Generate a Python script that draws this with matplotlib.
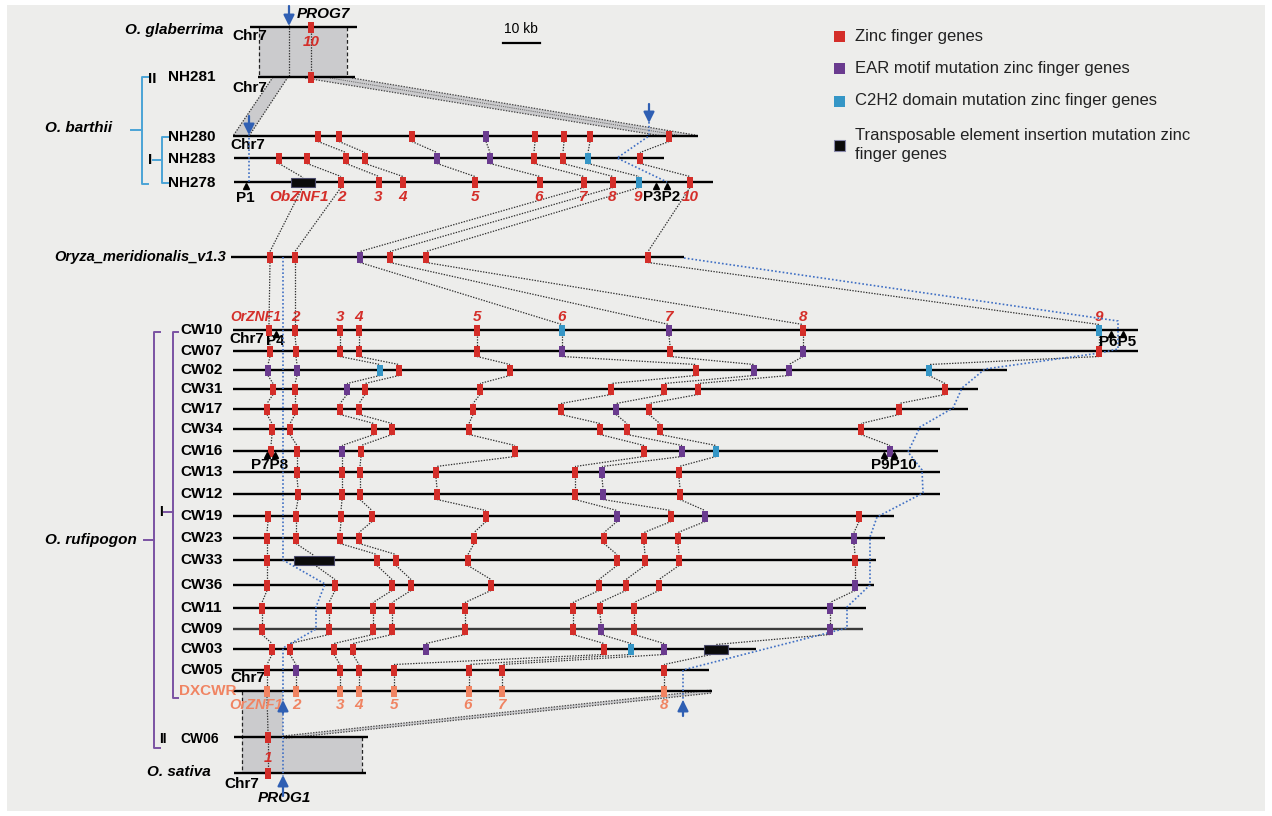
import matplotlib
matplotlib.use("Agg")
import matplotlib.pyplot as plt
from matplotlib.patches import Rectangle, Polygon

plt.rcParams['font.family'] = ['Liberation Sans', 'DejaVu Sans']

# ---------------- data ----------------
ROW_NAMES = ["glab", "NH281", "NH280", "NH283", "NH278", "MER",
             "CW10", "CW07", "CW02", "CW31", "CW17", "CW34", "CW16", "CW13", "CW12",
             "CW19", "CW23", "CW33", "CW36", "CW11", "CW09", "CW03", "CW05", "DXCWR",
             "CW06", "SAT"]
ROW_Y = [27, 77, 136, 158, 182, 257,
         330, 351, 370, 389, 409, 429, 451, 472, 494,
         516, 538, 560, 585, 608, 629, 649, 670, 691,
         737, 773]
ROW_X0 = [250, 258, 233, 234, 234, 231,
          233, 233, 233, 233, 233, 233, 233, 233, 233,
          233, 233, 233, 233, 233, 233, 233, 233, 233,
          234, 234]
ROW_X1 = [357, 355, 698, 664, 713, 684,
          1138, 1138, 1007, 978, 968, 940, 938, 940, 940,
          894, 885, 876, 874, 866, 863, 756, 709, 712,
          368, 366]

# genes: (index, position, kind)  kind: r=zinc finger, p=EAR, b=C2H2, t=TE, s=DXCWR
G_GLAB = [(10, 311, 'r')]
G_NH281 = [(10, 311, 'r')]
G_NH280 = [(3, 318, 'r'), (4, 339, 'r'), (5, 412, 'r'), (6, 486, 'p'), (7, 535, 'r'),
           (8, 564, 'r'), (9, 590, 'r'), (10, 669, 'r')]
G_NH283 = [(1, 279, 'r'), (2, 307, 'r'), (3, 346, 'r'), (4, 365, 'r'), (5, 437, 'p'),
           (6, 490, 'p'), (7, 534, 'r'), (8, 563, 'r'), (9, 588, 'b'), (10, 640, 'r')]
G_NH278 = [(1, 303, 't'), (2, 341, 'r'), (3, 379, 'r'), (4, 403, 'r'), (5, 475, 'r'),
           (6, 540, 'r'), (7, 584, 'r'), (8, 613, 'r'), (9, 639, 'b'), (10, 690, 'r')]
G_MER = [(1, 270, 'r'), (2, 295, 'r'), (7, 360, 'p'), (8, 390, 'r'), (9, 426, 'r'), (10, 648, 'r')]
G_CW10 = [(1, 269, 'r'), (2, 295, 'r'), (3, 340, 'r'), (4, 359, 'r'), (5, 477, 'r'),
          (6, 562, 'b'), (7, 669, 'p'), (8, 803, 'r'), (9, 1099, 'b')]
G_CW07 = [(1, 270, 'r'), (2, 296, 'r'), (3, 340, 'r'), (4, 359, 'r'), (5, 477, 'r'),
          (6, 562, 'p'), (7, 670, 'r'), (8, 803, 'p'), (9, 1099, 'r')]
G_CW02 = [(1, 268, 'p'), (2, 297, 'p'), (3, 380, 'b'), (4, 399, 'r'), (5, 510, 'r'),
          (6, 696, 'r'), (7, 754, 'p'), (8, 789, 'p'), (9, 929, 'b')]
G_CW31 = [(1, 273, 'r'), (2, 295, 'r'), (3, 347, 'p'), (4, 365, 'r'), (5, 480, 'r'),
          (6, 611, 'r'), (7, 664, 'r'), (8, 698, 'r'), (9, 945, 'r')]
G_CW17 = [(1, 267, 'r'), (2, 295, 'r'), (3, 340, 'r'), (4, 359, 'r'), (5, 473, 'r'),
          (6, 561, 'r'), (7, 616, 'p'), (8, 649, 'r'), (9, 899, 'r')]
G_CW34 = [(1, 272, 'r'), (2, 290, 'r'), (3, 374, 'r'), (4, 392, 'r'), (5, 469, 'r'),
          (6, 600, 'r'), (7, 627, 'r'), (8, 660, 'r'), (9, 861, 'r')]
G_CW16 = [(1, 271, 'r'), (2, 297, 'r'), (3, 342, 'p'), (4, 361, 'r'), (5, 515, 'r'),
          (6, 644, 'r'), (7, 682, 'p'), (8, 716, 'b'), (9, 890, 'p')]
G_CW13 = [(2, 297, 'r'), (3, 342, 'r'), (4, 360, 'r'), (5, 436, 'r'),
          (6, 575, 'r'), (7, 602, 'p'), (8, 679, 'r')]
G_CW12 = [(2, 298, 'r'), (3, 342, 'r'), (4, 360, 'r'), (5, 437, 'r'),
          (6, 575, 'r'), (7, 603, 'p'), (8, 680, 'r')]
G_CW19 = [(1, 268, 'r'), (2, 296, 'r'), (3, 341, 'r'), (4, 372, 'r'), (5, 486, 'r'),
          (6, 617, 'p'), (7, 671, 'r'), (8, 705, 'p'), (9, 859, 'r')]
G_CW23 = [(1, 267, 'r'), (2, 296, 'r'), (3, 340, 'r'), (4, 359, 'r'), (5, 474, 'r'),
          (6, 604, 'r'), (7, 644, 'r'), (8, 678, 'r'), (9, 854, 'p')]
G_CW33 = [(1, 267, 'r'), (2, 314, 't'), (3, 377, 'r'), (4, 396, 'r'), (5, 468, 'r'),
          (6, 617, 'r'), (7, 645, 'r'), (8, 679, 'r'), (9, 855, 'r')]
G_CW36 = [(1, 267, 'r'), (2, 335, 'r'), (3, 392, 'r'), (4, 411, 'r'), (5, 491, 'r'),
          (6, 599, 'r'), (7, 626, 'r'), (8, 659, 'r'), (9, 855, 'p')]
G_CW11 = [(1, 262, 'r'), (2, 329, 'r'), (3, 373, 'r'), (4, 392, 'r'), (5, 465, 'r'),
          (6, 573, 'r'), (7, 600, 'r'), (8, 634, 'r'), (9, 830, 'p')]
G_CW09 = [(1, 262, 'r'), (2, 329, 'r'), (3, 373, 'r'), (4, 392, 'r'), (5, 465, 'r'),
          (6, 573, 'r'), (7, 601, 'p'), (8, 634, 'r'), (9, 830, 'p')]
G_CW03 = [(1, 272, 'r'), (2, 290, 'r'), (3, 334, 'r'), (4, 353, 'r'), (5, 426, 'p'),
          (6, 604, 'r'), (7, 631, 'b'), (8, 664, 'p'), (9, 716, 't')]
G_CW05 = [(1, 267, 'r'), (2, 296, 'p'), (3, 340, 'r'), (4, 359, 'r'),
          (6, 394, 'r'), (7, 469, 'r'), (8, 502, 'r'), (9, 664, 'r')]
G_DXCWR = [(1, 267, 's'), (2, 296, 's'), (3, 340, 's'), (4, 359, 's'),
           (6, 394, 's'), (7, 469, 's'), (8, 502, 's'), (9, 664, 's')]
G_CW06 = [(1, 268, 'r')]
G_SAT = [(1, 268, 'r')]

# meridionalis gene index -> CW gene index
MER_TO_CW = {1: 1, 2: 2, 7: 6, 8: 7, 9: 8, 10: 9}

# gene number labels: (text, x)
LAB_NH278 = [("ObZNF1", 299), ("2", 341), ("3", 378), ("4", 402), ("5", 475), ("6", 539),
             ("7", 583), ("8", 612), ("9", 638), ("10", 690)]
LAB_CW10 = [("OrZNF1", 256), ("2", 295), ("3", 340), ("4", 359), ("5", 477), ("6", 562),
            ("7", 669), ("8", 803), ("9", 1099)]
LAB_DXCWR = [("OrZNF1", 256), ("2", 296), ("3", 340), ("4", 359), ("5", 394), ("6", 468),
             ("7", 502), ("8", 664)]

LEGEND_LABELS = ["Zinc finger genes", "EAR motif mutation zinc finger genes",
                 "C2H2 domain mutation zinc finger genes",
                 "Transposable element insertion mutation zinc\nfinger genes"]

# ---------------- styling ----------------
COL = {'r': '#d42e29', 'p': '#6a3b8f', 'b': '#3596c6', 's': '#f08462', 't': '#0b0b0b'}
LEG_COLORS = ['#d42e29', '#6a3b8f', '#3596c6', '#0b0b0b']
BLUE = '#3f6fc4'
ARROW = '#2f5fb3'
GRAY = '#cbcbcd'
DOT = (0, (1.1, 1.1))
TE_W = {"NH278": 24, "CW33": 40, "CW03": 24}

GENES = {"glab": G_GLAB, "NH281": G_NH281, "NH280": G_NH280, "NH283": G_NH283,
         "NH278": G_NH278, "MER": G_MER, "CW10": G_CW10, "CW07": G_CW07, "CW02": G_CW02,
         "CW31": G_CW31, "CW17": G_CW17, "CW34": G_CW34, "CW16": G_CW16, "CW13": G_CW13,
         "CW12": G_CW12, "CW19": G_CW19, "CW23": G_CW23, "CW33": G_CW33, "CW36": G_CW36,
         "CW11": G_CW11, "CW09": G_CW09, "CW03": G_CW03, "CW05": G_CW05, "DXCWR": G_DXCWR,
         "CW06": G_CW06, "SAT": G_SAT}
Y = dict(zip(ROW_NAMES, ROW_Y))
X0 = dict(zip(ROW_NAMES, ROW_X0))
X1 = dict(zip(ROW_NAMES, ROW_X1))

W, H = 1272, 816
fig = plt.figure(figsize=(W / 100, H / 100), dpi=100)
fig.patch.set_facecolor('white')
ax = fig.add_axes([0, 0, 1, 1])
ax.set_xlim(0, W)
ax.set_ylim(H, 0)
ax.axis('off')
ax.add_patch(Rectangle((7, 5), 1258, 806, facecolor='#ededeb', edgecolor='none', zorder=0))

# ---------- gray synteny blocks ----------
def block(pts, hatch=None, z=1):
    ax.add_patch(Polygon(pts, closed=True, facecolor=GRAY, edgecolor='none', zorder=z,
                         hatch=hatch))

block([(259, 27), (347, 27), (347, 77), (259, 77)])
ax.plot([259, 259], [27, 77], color='#222', lw=0.9, ls=(0, (3, 2)), zorder=2)
ax.plot([347, 347], [27, 77], color='#222', lw=0.9, ls=(0, (3, 2)), zorder=2)
ax.plot([289, 289], [25, 77], color='#333', lw=0.9, ls=DOT, zorder=2)

block([(273, 77), (288, 77), (249, 136), (233, 136)])
ax.plot([273, 233], [77, 136], color='#333', lw=0.9, ls=DOT, zorder=2)
ax.plot([288, 249], [77, 136], color='#333', lw=0.9, ls=DOT, zorder=2)

block([(305, 78), (352, 78), (695, 135), (662, 136)])
ax.plot([352, 695], [78, 135], color='#444', lw=0.9, ls=DOT, zorder=2)
ax.plot([305, 662], [78, 136], color='#444', lw=0.9, ls=DOT, zorder=2)
ax.plot([330, 680], [78, 135.5], color='#666', lw=0.7, ls=DOT, zorder=2)

block([(242, 691), (283, 691), (283, 737), (362, 737), (362, 773), (242, 773)])
ax.plot([242, 242], [691, 773], color='#222', lw=0.9, ls=(0, (3, 2)), zorder=2)
ax.plot([362, 362], [737, 773], color='#222', lw=0.9, ls=(0, (3, 2)), zorder=2)

block([(283, 736), (712, 690), (712, 693), (283, 738.5)])
ax.plot([283, 712], [736, 690], color='#444', lw=0.9, ls=DOT, zorder=2)
ax.plot([283, 712], [738.5, 693], color='#444', lw=0.9, ls=DOT, zorder=2)

# ---------- chromosome lines ----------
for n in ROW_NAMES:
    c = '#3a3a3a' if n == 'CW09' else 'black'
    ax.plot([X0[n], X1[n]], [Y[n], Y[n]], color=c, lw=1.7, solid_capstyle='butt', zorder=3)

# ---------- gene link lines ----------
def gene_half(row, kind):
    return 4.5 if kind == 't' else 5.5

def link(ra, ga, rb, gb):
    (ia, xa, ka), (ib, xb, kb) = ga, gb
    ax.plot([xa, xb], [Y[ra] + gene_half(ra, ka), Y[rb] - gene_half(rb, kb)],
            color='#303030', lw=0.9, ls=DOT, zorder=2)

chain = ["NH280", "NH283", "NH278"]
cw_chain = ["CW10", "CW07", "CW02", "CW31", "CW17", "CW34", "CW16", "CW13", "CW12",
            "CW19", "CW23", "CW33", "CW36", "CW11", "CW09", "CW03", "CW05", "DXCWR",
            "CW06", "SAT"]
pairs = [("glab", "NH281")] + list(zip(chain[:-1], chain[1:])) + [("NH278", "MER")] + \
        list(zip(cw_chain[:-1], cw_chain[1:]))
for ra, rb in pairs:
    db = {g[0]: g for g in GENES[rb]}
    for g in GENES[ra]:
        if g[0] in db:
            link(ra, g, rb, db[g[0]])
dcw = {g[0]: g for g in GENES["CW10"]}
for g in GENES["MER"]:
    link("MER", g, "CW10", dcw[MER_TO_CW[g[0]]])

# ---------- genes ----------
for n in ROW_NAMES:
    for idx, x, k in GENES[n]:
        if k == 't':
            w = TE_W[n]
            ax.add_patch(Rectangle((x - w / 2, Y[n] - 4.5), w, 9, facecolor=COL['t'],
                                   edgecolor='#4a4a6a', lw=0.8, zorder=5))
        else:
            ax.add_patch(Rectangle((x - 2.6, Y[n] - 5.5), 5.2, 11, facecolor=COL[k],
                                   edgecolor='none', zorder=5))

# ---------- blue dotted tracks ----------
def bline(xs, ys):
    ax.plot(xs, ys, color=BLUE, lw=1.2, ls=(0, (1, 1.3)), zorder=4)

bline([249, 249], [134, 182])
bline([649, 649, 617, 667], [122, 136, 158, 182])
bline([283, 283, 325, 316, 316, 283, 283], [257, 560, 584, 607, 629, 648, 776])
bline([684, 1118, 1118, 1100, 985, 962, 953, 920, 908, 922, 923, 877, 870, 870, 847, 847, 683, 683],
      [258, 321, 349, 353, 369, 388, 408, 427, 452, 470, 493, 517, 537, 585, 607, 628, 670, 702])

# ---------- arrows ----------
def arrow(x, ytail, ytip):
    ax.annotate('', xy=(x, ytip), xytext=(x, ytail),
                arrowprops=dict(arrowstyle='-|>', color=ARROW, lw=1.6, mutation_scale=16,
                                shrinkA=0, shrinkB=0), zorder=7)

arrow(289, 6, 26)
arrow(249, 116, 135)
arrow(649, 104, 123)
arrow(283, 713, 700)
arrow(683, 716, 700)
arrow(283, 796, 775)

# ---------- text ----------
BI = dict(fontweight='bold', fontstyle='italic')
B = dict(fontweight='bold')

ax.text(223, 30, "O. glaberrima", ha='right', va='center', fontsize=11, **BI)
ax.text(112, 128, "O. barthii", ha='right', va='center', fontsize=11, **BI)
ax.text(226, 257, "Oryza_meridionalis_v1.3", ha='right', va='center', fontsize=10.5, **BI)
ax.text(137, 540, "O. rufipogon", ha='right', va='center', fontsize=11, **BI)
ax.text(211, 772, "O. sativa", ha='right', va='center', fontsize=11, **BI)
ax.text(297, 14, "PROG7", ha='left', va='center', fontsize=11, **BI)
ax.text(258, 798, "PROG1", ha='left', va='center', fontsize=11, **BI)

for s, (x, y) in {"NH281": (168, 77), "NH280": (168, 137), "NH283": (168, 159),
                  "NH278": (168, 183)}.items():
    ax.text(x, y, s, ha='left', va='center', fontsize=11, **B)
for n in cw_chain[:17]:
    ax.text(180, Y[n], n, ha='left', va='center', fontsize=11, **B)
ax.text(179, 691, "DXCWR", ha='left', va='center', fontsize=11, color=COL['s'], **B)
ax.text(180, 739, "CW06", ha='left', va='center', fontsize=10, **B)

for (x, y) in [(232, 36), (232, 88), (230, 145), (229, 339), (230, 678), (224, 784)]:
    ax.text(x, y, "Chr7", ha='left', va='center', fontsize=11, **B)

# brackets
def bracket(x, y0, y1, hook, color):
    ax.plot([x + hook, x, x, x + hook], [y0, y0, y1, y1], color=color, lw=1.4, zorder=3)

BB = '#4aa3d6'
bracket(142, 77, 184, 6, BB)
ax.plot([131, 142], [130, 130], color=BB, lw=1.4)
ax.text(148, 79, "II", ha='left', va='center', fontsize=11, **B)
bracket(162, 137, 183, 6, BB)
ax.text(148, 160, "I", ha='left', va='center', fontsize=11, **B)
ax.plot([153, 162], [160, 160], color=BB, lw=1.4)

PB = '#7a52a3'
bracket(154, 332, 748, 6, PB)
ax.plot([144, 154], [540, 540], color=PB, lw=1.4)
bracket(173, 332, 698, 5, PB)
ax.plot([164, 173], [512, 512], color=PB, lw=1.4)
ax.text(159, 512, "I", ha='left', va='center', fontsize=10, **B)
ax.text(159, 739, "II", ha='left', va='center', fontsize=10, **B)

# gene number labels
ax.text(311, 42, "10", ha='center', va='center', fontsize=11, color=COL['r'], **BI)
for s, x in LAB_NH278:
    ax.text(x, 197, s, ha='center', va='center', fontsize=11, color=COL['r'], **BI)
for s, x in LAB_CW10:
    ax.text(x, 317, s, ha='center', va='center', fontsize=10 if len(s) > 2 else 11,
            color=COL['r'], **BI)
for s, x in LAB_DXCWR:
    ax.text(x, 705, s, ha='center', va='center', fontsize=10.5 if len(s) > 2 else 11,
            color=COL['s'], **BI)
ax.text(268, 758, "1", ha='center', va='center', fontsize=11, color=COL['r'], **BI)

# P markers
for x, y in [(246, 186), (656, 186), (667, 186), (276, 334), (1111, 334), (1123, 334),
             (267, 455), (275, 455), (884, 455), (894, 455)]:
    ax.plot(x, y, marker='^', ms=4.5, color='black', zorder=6)
for s, x, y in [("P1", 245, 198), ("P3P2", 662, 197), ("P4", 275, 341), ("P6P5", 1118, 342),
                ("P7P8", 270, 465), ("P9P10", 894, 465)]:
    ax.text(x, y, s, ha='center', va='center', fontsize=11, **B)

# scale bar
ax.text(521, 29, "10 kb", ha='center', va='center', fontsize=10)
ax.plot([503, 540], [43, 43], color='black', lw=1.6)

# legend
for i, (lab, c) in enumerate(zip(LEGEND_LABELS, LEG_COLORS)):
    yy = [36, 68, 101, 145][i]
    ax.add_patch(Rectangle((833.5, yy - 5.5), 11, 11, facecolor=c,
                           edgecolor='#8888aa' if i == 3 else 'none', lw=0.8, zorder=5))
    ax.text(855, yy, lab, ha='left', va='center', fontsize=12, color='#222',
            linespacing=1.35)

fig.savefig("out.png", dpi=100, facecolor='white')
